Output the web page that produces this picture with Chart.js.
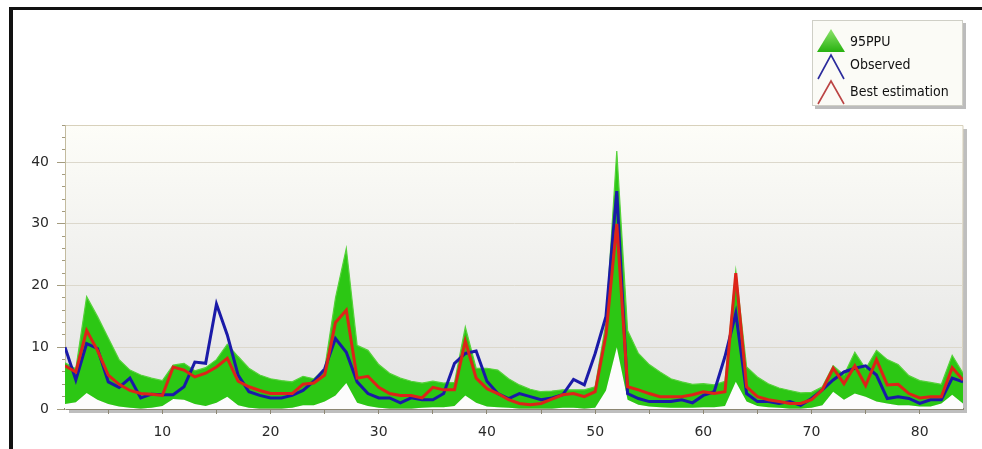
<!DOCTYPE html>
<html><head><meta charset="utf-8">
<script src="https://cdn.jsdelivr.net/npm/chart.js@4.4.0/dist/chart.umd.min.js"></script>
<style>
html,body{margin:0;padding:0;background:#fff;width:982px;height:449px;overflow:hidden;}
#wrap{position:absolute;left:0;top:0;width:982px;height:449px;}
#frame{position:absolute;left:9px;top:7px;width:980px;height:460px;border-left:4px solid #111;border-top:3px solid #111;pointer-events:none;}
#legend{position:absolute;left:812px;top:20px;width:149px;height:84px;background:#fbfbf6;border:1px solid #cfcfc6;box-shadow:3px 3px 0 #bcbcbc;font-family:"DejaVu Sans Condensed","DejaVu Sans",sans-serif;font-size:14px;color:#111;}
#legend .t{position:absolute;left:37px;line-height:18px;white-space:nowrap;}
#legend svg{position:absolute;left:3px;}
</style></head>
<body>
<div id="wrap"><canvas id="c" width="982" height="449"></canvas></div>
<div id="frame"></div>
<div id="legend">
  <svg style="top:7px" width="30" height="26"><defs><linearGradient id="gg" x1="0" y1="0" x2="0" y2="1"><stop offset="0" stop-color="#8ee46c"/><stop offset="1" stop-color="#27b10f"/></linearGradient></defs><polygon points="15,1 29,24 1,24" fill="url(#gg)"/></svg>
  <div class="t" style="top:11px">95PPU</div>
  <svg style="top:30px" width="30" height="30"><polyline points="2,28 15,4 28,28" fill="none" stroke="#2b2b9c" stroke-width="1.6"/></svg>
  <div class="t" style="top:34px">Observed</div>
  <svg style="top:57px" width="30" height="28"><polyline points="2,26 15,3 28,26" fill="none" stroke="#bb4444" stroke-width="1.6"/></svg>
  <div class="t" style="top:61px">Best estimation</div>
</div>
<script>
const days = [1,2,3,4,5,6,7,8,9,10,11,12,13,14,15,16,17,18,19,20,21,22,23,24,25,26,27,28,29,30,31,32,33,34,35,36,37,38,39,40,41,42,43,44,45,46,47,48,49,50,51,52,53,54,55,56,57,58,59,60,61,62,63,64,65,66,67,68,69,70,71,72,73,74,75,76,77,78,79,80,81,82,83,84];
const observed = [10.0,4.7,10.6,9.8,4.4,3.5,5.0,1.8,2.4,2.3, 2.3,3.6,7.6,7.4,17.0,12.0,5.5,2.8,2.2,1.8, 1.8,2.2,3.0,4.5,6.5,11.4,9.2,4.4,2.5,1.8, 1.8,1.0,1.8,1.5,1.5,2.5,7.4,9.0,9.4,4.5, 2.5,1.7,2.5,2.0,1.5,1.8,2.3,4.8,3.9,9.0, 15.0,35.3,2.5,1.7,1.2,1.2,1.2,1.5,1.0,2.2, 2.8,8.5,15.5,2.5,1.2,1.2,0.9,1.2,0.6,1.7, 3.1,4.7,6.0,6.6,7.0,5.5,1.7,2.0,1.7,0.9, 1.5,1.5,5.0,4.4];
const bestEstimation = [7.0,6.0,12.7,9.5,5.5,4.0,3.0,2.5,2.4,2.2, 6.8,6.3,5.2,5.8,6.8,8.2,4.5,3.6,3.0,2.5, 2.5,2.5,4.0,4.2,5.5,14.0,16.0,5.0,5.3,3.5, 2.5,2.2,2.2,1.8,3.5,3.1,3.1,11.0,5.0,3.3, 2.5,1.5,0.9,0.7,0.9,1.6,2.3,2.5,2.0,2.8, 12.0,30.0,3.6,3.1,2.5,2.0,2.0,2.0,2.3,2.8, 2.5,2.8,22.0,3.6,2.0,1.5,1.2,0.9,0.9,1.5, 3.1,6.6,4.1,7.0,3.8,8.0,3.9,4.0,2.5,1.8, 2.0,2.0,6.7,4.7];
const ppuUpper = [7.5,6.5,18.2,15.0,11.5,8.0,6.3,5.5,5.0,4.6, 7.1,7.4,6.2,6.7,8.0,10.5,8.5,6.6,5.5,4.9, 4.6,4.4,5.3,4.9,6.5,18.0,26.0,10.3,9.5,7.2, 5.8,5.0,4.5,4.2,4.5,4.2,4.3,13.3,6.6,6.6, 6.3,4.9,3.9,3.2,2.8,2.9,3.1,3.1,3.1,3.6, 14.0,41.8,12.7,9.0,7.2,6.0,4.9,4.4,4.0,4.1, 3.9,4.5,22.4,6.8,5.2,4.1,3.4,3.0,2.6,2.7, 3.6,7.0,5.5,9.2,6.5,9.5,8.0,7.2,5.4,4.6, 4.3,4.0,8.7,5.8];
const ppuLower = [0.8,1.1,2.6,1.5,0.8,0.4,0.2,0.1,0.2,0.5, 1.6,1.5,0.8,0.5,1.0,2.0,0.6,0.2,0.1,0.1, 0.1,0.2,0.6,0.6,1.2,2.2,4.2,1.0,0.5,0.2, 0.1,0.1,0.1,0.2,0.3,0.3,0.5,2.2,1.0,0.4, 0.3,0.2,0.1,0.1,0.1,0.1,0.2,0.2,0.1,0.2, 3.0,10.0,1.5,0.7,0.4,0.3,0.2,0.2,0.2,0.3, 0.3,0.5,4.4,1.2,0.5,0.3,0.2,0.1,0.1,0.2, 0.6,2.8,1.5,2.5,2.0,1.2,0.9,0.6,0.6,0.4, 0.4,0.9,2.3,0.9];
const xTicks = [5,10,15,20,25,30,35,40,45,50,55,60,65,70,75,80];

const pts = arr => arr.map((v,i)=>({x:days[i], y:v}));

const plotBg = {
  id:'plotBg',
  beforeDraw(chart){
    const {ctx, chartArea:{left,top,right,bottom}} = chart;
    ctx.save();
    ctx.fillStyle='rgba(110,110,110,0.45)';
    ctx.fillRect(left+4, top+4, right-left, bottom-top);
    const g = ctx.createLinearGradient(0,top,0,bottom);
    g.addColorStop(0,'#fdfdf8'); g.addColorStop(1,'#e3e3e3');
    ctx.fillStyle=g; ctx.fillRect(left,top,right-left,bottom-top);
    ctx.strokeStyle='#d8d1bb'; ctx.lineWidth=1;
    ctx.beginPath(); ctx.moveTo(left,top+0.5); ctx.lineTo(right,top+0.5); ctx.lineTo(right-0.5,bottom); ctx.stroke();
    ctx.restore();
  }
};

new Chart(document.getElementById('c'), {
  type:'line',
  data:{datasets:[
    {label:'lower', data:pts(ppuLower), borderWidth:0, pointRadius:0, fill:'origin', backgroundColor:'#fcfcfc', borderColor:'rgba(0,0,0,0)', order:3, tension:0},
    {label:'95PPU', data:pts(ppuUpper), borderWidth:1.2, pointRadius:0, fill:'-1', backgroundColor:'#2cc714', borderColor:'#55d23a', order:2, tension:0},
    {label:'Observed', data:pts(observed), borderWidth:3, pointRadius:0, borderColor:'#1a1aa8', fill:false, order:1, tension:0},
    {label:'Best estimation', data:pts(bestEstimation), borderWidth:3, pointRadius:0, borderColor:'#dd2418', fill:false, order:0, tension:0}
  ]},
  options:{
    responsive:false, animation:false, devicePixelRatio:1,
    layout:{padding:{left:0,top:125,right:19,bottom:0}},
    plugins:{legend:{display:false}, tooltip:{enabled:false}},
    scales:{
      x:{type:'linear', min:1, max:84,
        border:{color:'#8c8672', width:2},
        grid:{drawOnChartArea:false, tickLength:5, tickColor:'#8c8672'},
        afterBuildTicks:s=>{ s.ticks = xTicks.map(v=>({value:v})); },
        ticks:{autoSkip:false, maxRotation:0, padding:10, color:'#2a2a2a', font:{family:'DejaVu Sans', size:14},
          callback:v=> v%10===0 ? String(v) : ''},
        afterFit:s=>{ s.height = 40; }
      },
      y:{min:0, max:46,
        border:{color:'#c3bb9f', width:1},
        grid:{
          color:c=> (c.tick && c.tick.value%10===0 && c.tick.value>0) ? '#dcd8cc' : 'rgba(0,0,0,0)',
          tickColor:'#a39b7e', tickLength:8,
          tickBorderDash:c=> (c.tick && c.tick.value%10===0) ? [] : [0,5,3,0]
        },
        ticks:{stepSize:2, autoSkip:false, padding:8, color:'#2a2a2a', font:{family:'DejaVu Sans', size:14},
          callback:v=> v%10===0 ? String(v) : ''},
        afterFit:s=>{ s.width = 65; }
      }
    }
  },
  plugins:[plotBg]
});
</script>
</body></html>
